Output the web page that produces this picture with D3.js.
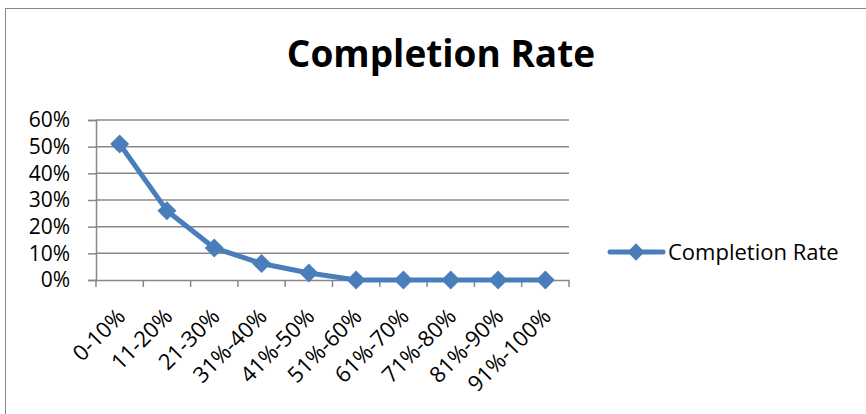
<!DOCTYPE html>
<html>
<head>
<meta charset="utf-8">
<script src="https://d3js.org/d3.v7.min.js"></script>
<style>
  body { margin: 0; background: #fff; }
  svg { display: block; }
</style>
</head>
<body>
<svg id="chart" width="866" height="414"></svg>
<script>
// Data
const categories = ['0-10%', '11-20%', '21-30%', '31%-40%', '41%-50%', '51%-60%', '61%-70%', '71%-80%', '81%-90%', '91%-100%'];
const rates = [0.51, 0.26, 0.12, 0.062, 0.026, 0, 0, 0, 0, 0];
const yTicks = [0, 0.1, 0.2, 0.3, 0.4, 0.5, 0.6];
const seriesName = 'Completion Rate';

const blue = '#4a7ebb';
const font = 'Open Sans, Liberation Sans, sans-serif';

const svg = d3.select('#chart');

// Chart frame
svg.append('rect')
  .attr('x', 5.5).attr('y', 8.5)
  .attr('width', 900).attr('height', 500)
  .attr('fill', 'none')
  .attr('stroke', '#888')
  .attr('stroke-width', 1);

// Title
svg.append('text')
  .attr('x', 441).attr('y', 67)
  .attr('text-anchor', 'middle')
  .attr('font-family', font)
  .attr('font-weight', 'bold')
  .attr('font-size', 37)
  .attr('fill', '#000')
  .text(seriesName);

const plot = { left: 96, right: 569, top: 120, bottom: 280 };

const x = d3.scaleBand()
  .domain(categories)
  .range([plot.left, plot.right]);

const y = d3.scaleLinear()
  .domain([0, 0.6])
  .range([plot.bottom, plot.top]);

// Gridlines
svg.append('g')
  .selectAll('line')
  .data(yTicks.filter(d => d > 0))
  .enter()
  .append('line')
  .attr('x1', plot.left).attr('x2', plot.right)
  .attr('y1', d => y(d)).attr('y2', d => y(d))
  .attr('stroke', '#888')
  .attr('stroke-width', 1.5);

// Y axis
const yAxis = svg.append('g')
  .attr('transform', `translate(${plot.left},0)`)
  .call(d3.axisLeft(y).tickValues(yTicks).tickFormat(d3.format('.0%')).tickSize(8).tickPadding(18));
yAxis.select('.domain').attr('stroke', '#888').attr('stroke-width', 1.5);
yAxis.selectAll('.tick line').attr('stroke', '#888').attr('stroke-width', 1.5);
yAxis.selectAll('text')
  .attr('font-family', font)
  .attr('font-size', 21)
  .attr('fill', '#000');

// X axis
const xAxis = svg.append('g')
  .attr('transform', `translate(0,${plot.bottom})`)
  .call(d3.axisBottom(x).tickSize(0).tickFormat(''));
xAxis.select('.domain').attr('stroke', '#888').attr('stroke-width', 1.5);

// Tick marks on category boundaries
const bounds = categories.map(c => x(c)).concat([plot.right]);
svg.append('g')
  .selectAll('line')
  .data(bounds)
  .enter()
  .append('line')
  .attr('x1', d => d).attr('x2', d => d)
  .attr('y1', plot.bottom).attr('y2', plot.bottom + 7)
  .attr('stroke', '#888')
  .attr('stroke-width', 1.5);

// Rotated category labels
svg.append('g')
  .selectAll('text')
  .data(categories)
  .enter()
  .append('text')
  .attr('transform', d => `translate(${x(d) + x.bandwidth() / 2 - 4},${plot.bottom + 27}) rotate(-45)`)
  .attr('text-anchor', 'end')
  .attr('dy', '0.7em')
  .attr('font-family', font)
  .attr('font-size', 22)
  .attr('fill', '#000')
  .text(d => d);

// Line
const line = d3.line()
  .x((d, i) => x(categories[i]) + x.bandwidth() / 2)
  .y(d => y(d));

svg.append('path')
  .datum(rates)
  .attr('d', line)
  .attr('fill', 'none')
  .attr('stroke', blue)
  .attr('stroke-width', 5)
  .attr('stroke-linejoin', 'round');

// Diamond markers
const diamond = d3.symbol().type(d3.symbolSquare).size(180);
svg.append('g')
  .selectAll('path')
  .data(rates)
  .enter()
  .append('path')
  .attr('d', diamond)
  .attr('transform', (d, i) => `translate(${x(categories[i]) + x.bandwidth() / 2},${y(d)}) rotate(45)`)
  .attr('fill', blue);

// Legend
const legend = svg.append('g').attr('transform', 'translate(0,252)');
legend.append('line')
  .attr('x1', 610).attr('x2', 663)
  .attr('y1', 0).attr('y2', 0)
  .attr('stroke', blue)
  .attr('stroke-width', 5)
  .attr('stroke-linecap', 'round');
legend.append('path')
  .attr('d', d3.symbol().type(d3.symbolSquare).size(150))
  .attr('transform', 'translate(636,0) rotate(45)')
  .attr('fill', blue);
legend.append('text')
  .attr('x', 668).attr('y', 0)
  .attr('dy', '0.35em')
  .attr('font-family', font)
  .attr('font-size', 22)
  .attr('fill', '#000')
  .text(seriesName);
</script>
</body>
</html>
